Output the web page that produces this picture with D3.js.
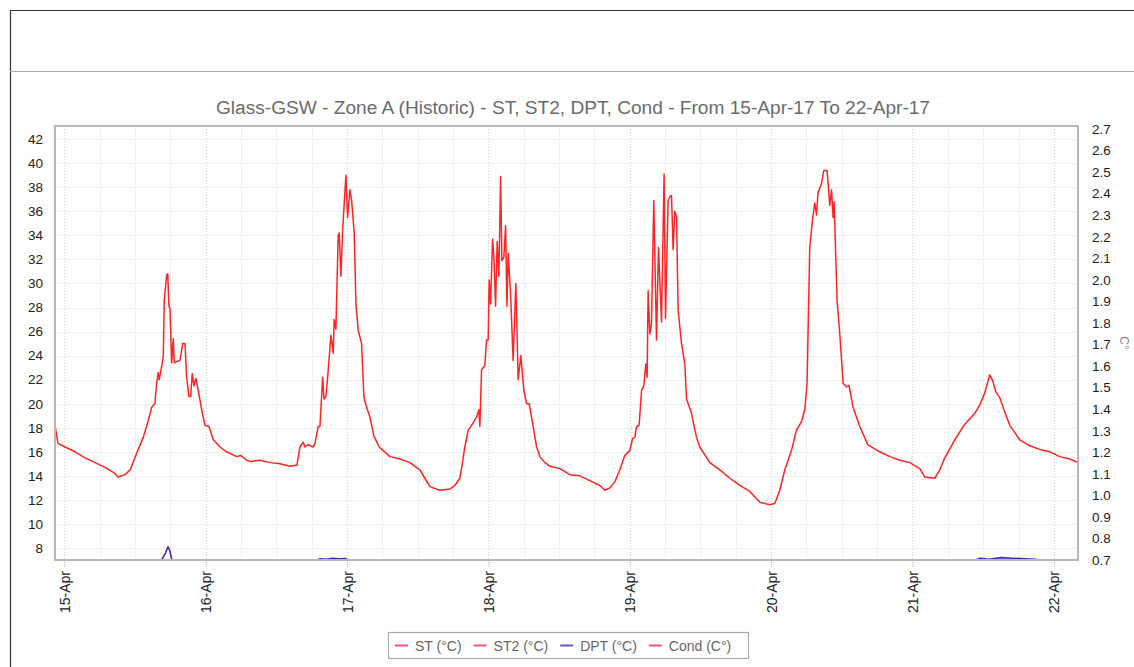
<!DOCTYPE html>
<html>
<head>
<meta charset="utf-8">
<script src="https://cdn.jsdelivr.net/npm/d3@7/dist/d3.min.js"></script>
<style>
  html, body { margin: 0; padding: 0; background: #fff; }
  svg { display: block; font-family: "Liberation Sans", Arial, sans-serif; }
</style>
</head>
<body>
<svg id="chart" width="1134" height="667"></svg>
<script>
// ---- chart text ----
const titleText = "Glass-GSW - Zone A (Historic) - ST, ST2, DPT, Cond - From 15-Apr-17 To 22-Apr-17";
const legendNames = ["ST (°C)", "ST2 (°C)", "DPT (°C)", "Cond (C°)"];
const rightAxisTitle = "C°";

// ---- time axis ----
const rangeStart = new Date(2017, 3, 15, 0, 0);          // 15-Apr-17 00:00
const viewFromHour = -1.58, viewToHour = 172.1;          // visible window, hours after rangeStart
const dayTicks = ["2017-04-15", "2017-04-16", "2017-04-17", "2017-04-18",
                  "2017-04-19", "2017-04-20", "2017-04-21", "2017-04-22"];

// ---- value axes ----
const leftTicks = [8, 10, 12, 14, 16, 18, 20, 22, 24, 26, 28, 30, 32, 34, 36, 38, 40, 42];
const rightTicks = [0.7, 0.8, 0.9, 1.0, 1.1, 1.2, 1.3, 1.4, 1.5, 1.6, 1.7, 1.8, 1.9, 2.0,
                    2.1, 2.2, 2.3, 2.4, 2.5, 2.6, 2.7];

// ---- ST (°C): hours after 15-Apr-17 00:00, value ----
const stHours = [
  -1.58, -1.07, 0.12, 1.82, 3.51, 5.21, 6.91, 8.6, 9.11, 10.3, 11.2, 12.29, 13.41, 14.26,
  14.83, 15.39, 15.68, 15.95, 16.12, 16.53, 16.8, 16.97, 17.38, 17.55, 17.77, 17.94, 18.23,
  18.5, 18.67, 19.08, 19.64, 20.1, 20.49, 20.77, 21.16, 21.45, 21.72, 22.01, 22.35, 22.74,
  23.32, 23.88, 24.56, 25.29, 26.43, 27.56, 29.26, 29.94, 30.96, 31.52, 33.21, 34.91, 36.61,
  38.31, 39.5, 40.0, 40.56, 40.85, 41.41, 42.26, 42.55, 43.11, 43.4, 43.86, 44.08, 44.42,
  44.81, 45.26, 45.66, 45.82, 46.11, 46.5, 46.67, 46.96, 47.25, 47.81, 48.1, 48.49, 48.78,
  49.22, 49.51, 49.9, 50.47, 50.86, 51.32, 51.88, 52.56, 53.46, 55.28, 56.97, 58.67, 60.37,
  61.22, 62.07, 63.77, 65.46, 66.31, 67.16, 67.5, 68.0, 68.57, 69.42, 69.99, 70.38, 70.55,
  70.84, 71.4, 71.69, 71.96, 72.13, 72.37, 72.71, 72.93, 73.22, 73.49, 73.78, 74.07, 74.29,
  74.63, 74.92, 75.14, 75.36, 75.76, 76.2, 76.66, 77.05, 77.51, 78.02, 78.48, 78.92, 79.5,
  80.18, 80.74, 81.59, 82.43, 84.13, 85.83, 87.52, 89.22, 90.92, 91.77, 92.61, 93.46, 94.31,
  95.16, 96.01, 96.47, 96.86, 97.15, 97.59, 98.0, 98.39, 98.73, 98.95, 99.12, 99.41, 99.69,
  100.08, 100.54, 100.88, 101.39, 101.83, 102.07, 102.51, 102.92, 103.09, 103.36, 103.65,
  103.94, 104.21, 104.79, 105.35, 105.64, 106.48, 107.33, 107.89, 109.59, 111.29, 112.98,
  114.68, 116.38, 118.08, 119.77, 120.62, 121.47, 122.32, 123.45, 124.3, 125.15, 125.71,
  126.1, 126.56, 127.02, 127.41, 127.7, 127.97, 128.55, 128.94, 129.5, 129.96, 130.25,
  130.52, 130.69, 131.2, 131.66, 132.22, 132.8, 133.23, 133.91, 135.05, 136.41, 138.45,
  140.15, 141.85, 143.55, 145.24, 146.09, 147.79, 148.64, 149.49, 151.18, 152.88, 154.58,
  155.43, 156.27, 156.78, 157.12, 157.63, 158.14, 158.82, 159.67, 160.52, 161.37, 162.21,
  163.91, 165.61, 167.31, 169.0, 170.7, 172.1
];
const stValues = [
  18.2, 16.7, 16.4, 16.0, 15.5, 15.1, 14.7, 14.2, 13.9, 14.1, 14.5, 15.9, 17.2, 18.6,
  19.7, 20.0, 21.7, 22.6, 22.0, 23.1, 23.9, 28.6, 30.7, 30.8, 28.1, 27.9, 23.4,
  25.4, 23.4, 23.5, 23.6, 25.0, 25.0, 22.2, 20.6, 20.6, 22.5, 21.5, 22.1, 21.1,
  19.5, 18.2, 18.1, 17.0, 16.4, 16.0, 15.6, 15.7, 15.3, 15.2, 15.3, 15.1, 15.0,
  14.8, 14.9, 16.4, 16.8, 16.4, 16.6, 16.4, 16.7, 18.1, 18.1, 22.2, 20.4, 20.6,
  22.8, 25.7, 24.2, 27.0, 26.2, 34.0, 34.2, 30.6, 34.4, 39.0, 35.5, 37.8, 36.9,
  34.2, 28.3, 26.1, 25.0, 20.6, 19.7, 18.9, 17.3, 16.4, 15.6, 15.4, 15.1, 14.5,
  13.8, 13.1, 12.8, 12.9, 13.2, 13.8, 14.8, 16.4, 17.8, 18.4, 18.9, 19.5, 18.1,
  22.8, 23.2, 25.3, 25.3, 30.3, 28.3, 33.7, 32.2, 28.1, 33.5, 30.6, 38.9, 31.9,
  32.2, 34.8, 28.1, 32.5, 29.2, 23.6, 30.0, 22.0, 24.0, 21.1, 20.0, 20.0, 18.4,
  16.4, 15.6, 15.1, 14.8, 14.6, 14.1, 14.0, 13.6, 13.2, 12.8, 13.0, 13.5, 14.5,
  15.7, 16.1, 17.1, 17.2, 18.1, 18.2, 21.1, 21.5, 23.3, 22.2, 29.4, 25.8, 26.7,
  36.9, 25.3, 33.0, 26.8, 39.1, 27.1, 36.9, 37.3, 37.3, 32.8, 36.0,
  35.5, 27.8, 25.0, 23.3, 20.4, 19.2, 17.2, 16.4, 15.1, 14.5, 13.8,
  13.2, 12.7, 11.8, 11.6, 11.7, 12.8, 14.5, 16.1, 17.8, 18.5, 19.5,
  21.7, 33.0, 35.3, 36.7, 35.7, 37.6, 38.3, 39.4, 39.4, 36.5, 37.8,
  35.5, 36.8, 28.6, 25.8, 21.7, 21.4, 21.5, 19.7, 18.1, 16.6, 16.0,
  15.6, 15.3, 15.1, 14.6, 13.9, 13.8, 14.5, 15.5, 17.0, 18.3, 19.2,
  19.9, 20.9, 21.8, 22.4, 21.9, 21.0, 20.5, 19.3, 18.2, 17.6, 17.0,
  16.5, 16.2, 16.0, 15.6, 15.4, 15.1
];

// ---- DPT (°C): mostly below the visible range ----
const dptHours = [
  -1.58, 6, 12, 15, 16.5, 17.2, 17.6, 17.9, 18.3, 21, 30, 40, 42.5, 43.5, 44.5, 45.5,
  46.5, 47.8, 48.5, 52, 60, 70, 80, 96, 110, 120, 135, 150, 154.5, 155.5, 157, 159, 161,
  163, 165, 166, 172.1
];
const dptValues = [
  5.2, 4.8, 5.5, 6.2, 7.0, 7.6, 8.1, 7.8, 6.9, 6.0, 5.0, 6.2, 6.95, 7.1, 7.05, 7.15,
  7.1, 7.12, 6.9, 6.0, 4.5, 5.0, 5.5, 4.0, 3.5, 3.0, 4.5, 6.0, 6.95, 7.15, 7.05, 7.2, 7.15,
  7.1, 7.05, 6.9, 6.0
];

// ---- colours ----
const stColor = "#ff2424";
const dptColor = "#3b2fb8";
const legendColors = ["#f4507e", "#f4507e", "#6357c8", "#f4507e"];

// ---- layout ----
const plot = { left: 55, right: 1078, top: 126, bottom: 560 };
const HOUR = 3600e3;
const atHour = h => new Date(rangeStart.getTime() + h * HOUR);

const svg = d3.select("#chart");

const x = d3.scaleTime()
  .domain([atHour(viewFromHour), atHour(viewToHour)])
  .range([plot.left, plot.right]);
const yL = d3.scaleLinear().domain([7, 43.1]).range([plot.bottom, plot.top]);
const yR = d3.scaleLinear().domain([0.7, 2.714]).range([plot.bottom, plot.top]);

// page frame
svg.append("line").attr("x1", 10).attr("x2", 1134).attr("y1", 10.5).attr("y2", 10.5)
  .attr("stroke", "#333").attr("stroke-width", 1.2);
svg.append("line").attr("x1", 10.5).attr("x2", 10.5).attr("y1", 10).attr("y2", 667)
  .attr("stroke", "#333").attr("stroke-width", 1.2);
svg.append("line").attr("x1", 10).attr("x2", 1134).attr("y1", 71.5).attr("y2", 71.5)
  .attr("stroke", "#aaa").attr("stroke-width", 1);

// title
svg.append("text")
  .attr("x", 573).attr("y", 114)
  .attr("text-anchor", "middle")
  .attr("textLength", 714).attr("lengthAdjust", "spacingAndGlyphs")
  .style("font-family", "'Liberation Sans Narrow', 'Liberation Sans', Arial, sans-serif")
  .style("font-size", "18px")
  .attr("fill", "#6b6b6b")
  .text(titleText);

// grid
const grid = svg.append("g");
grid.selectAll("line.h").data(leftTicks).join("line")
  .attr("x1", plot.left).attr("x2", plot.right)
  .attr("y1", d => Math.round(yL(d)) + 0.5).attr("y2", d => Math.round(yL(d)) + 0.5)
  .attr("stroke", "#efefef");
const sixHours = d3.timeHour.every(6).range(x.domain()[0], x.domain()[1])
  .filter(d => d.getHours() !== 0);
grid.selectAll("line.m").data(sixHours).join("line")
  .attr("y1", plot.top).attr("y2", plot.bottom)
  .attr("x1", d => Math.round(x(d)) + 0.5).attr("x2", d => Math.round(x(d)) + 0.5)
  .attr("stroke", "#f1f1f1");
const dayDates = dayTicks.map(s => d3.timeParse("%Y-%m-%d")(s));
grid.selectAll("line.d").data(dayDates).join("line")
  .attr("y1", plot.top).attr("y2", plot.bottom)
  .attr("x1", d => Math.round(x(d)) + 0.5).attr("x2", d => Math.round(x(d)) + 0.5)
  .attr("stroke", "#cfcfcf").attr("stroke-dasharray", "1,2");

// series
svg.append("clipPath").attr("id", "plotClip")
  .append("rect").attr("x", plot.left).attr("y", plot.top)
  .attr("width", plot.right - plot.left).attr("height", plot.bottom - plot.top);

const lineL = d3.line().x(d => x(atHour(d[0]))).y(d => yL(d[1]));
const series = svg.append("g").attr("clip-path", "url(#plotClip)");
series.append("path")
  .datum(d3.zip(dptHours, dptValues))
  .attr("d", lineL).attr("fill", "none")
  .attr("stroke", dptColor).attr("stroke-width", 1.6).attr("stroke-linejoin", "round");
series.append("path")
  .datum(d3.zip(stHours, stValues))
  .attr("d", lineL).attr("fill", "none")
  .attr("stroke", stColor).attr("stroke-width", 1.5).attr("stroke-linejoin", "round");

// plot frame
svg.append("rect")
  .attr("x", plot.left).attr("y", plot.top)
  .attr("width", plot.right - plot.left).attr("height", plot.bottom - plot.top)
  .attr("fill", "none").attr("stroke", "#b8b8b8").attr("stroke-width", 2);

// axes
const tickFont = g => g.selectAll("text")
  .style("font-family", "'Liberation Sans', Arial, sans-serif")
  .style("font-size", "13.5px").attr("fill", "#222");

const leftAxis = svg.append("g")
  .attr("transform", `translate(${plot.left},0)`)
  .call(d3.axisLeft(yL).tickValues(leftTicks).tickSize(0).tickPadding(12));
leftAxis.select(".domain").remove();
leftAxis.call(tickFont);

const rightAxis = svg.append("g")
  .attr("transform", `translate(${plot.right},0)`)
  .call(d3.axisRight(yR).tickValues(rightTicks).tickSize(0).tickPadding(14)
    .tickFormat(d3.format(".1f")));
rightAxis.select(".domain").remove();
rightAxis.call(tickFont);

const bottomAxis = svg.append("g")
  .attr("transform", `translate(0,${plot.bottom})`)
  .call(d3.axisBottom(x).tickValues(dayDates).tickSize(7)
    .tickFormat(d3.timeFormat("%d-%b")));
bottomAxis.select(".domain").remove();
bottomAxis.selectAll(".tick line").attr("stroke", "#aaa").attr("stroke-dasharray", "1,1");
bottomAxis.call(tickFont);
bottomAxis.selectAll(".tick text")
  .attr("transform", "rotate(-90)")
  .attr("x", -11).attr("y", 0).attr("dy", "0.36em")
  .style("text-anchor", "end")
  .style("font-size", "14px");

// right axis title
svg.append("text")
  .attr("transform", "translate(1120,343) rotate(90)")
  .attr("text-anchor", "middle")
  .style("font-size", "12px").attr("fill", "#888")
  .text(rightAxisTitle);

// legend
const legend = svg.append("g");
legend.append("rect")
  .attr("x", 388.5).attr("y", 632.5).attr("width", 360).attr("height", 26)
  .attr("fill", "#fff").attr("stroke", "#aaa").attr("stroke-width", 1.2);
let lx = 395;
legendNames.forEach((name, i) => {
  legend.append("line")
    .attr("x1", lx).attr("x2", lx + 13).attr("y1", 645.5).attr("y2", 645.5)
    .attr("stroke", legendColors[i]).attr("stroke-width", 2);
  const t = legend.append("text")
    .attr("x", lx + 20).attr("y", 650.5)
    .style("font-size", "14px").attr("fill", "#666")
    .text(name);
  lx += 20 + t.node().getComputedTextLength() + 12;
});
</script>
</body>
</html>
